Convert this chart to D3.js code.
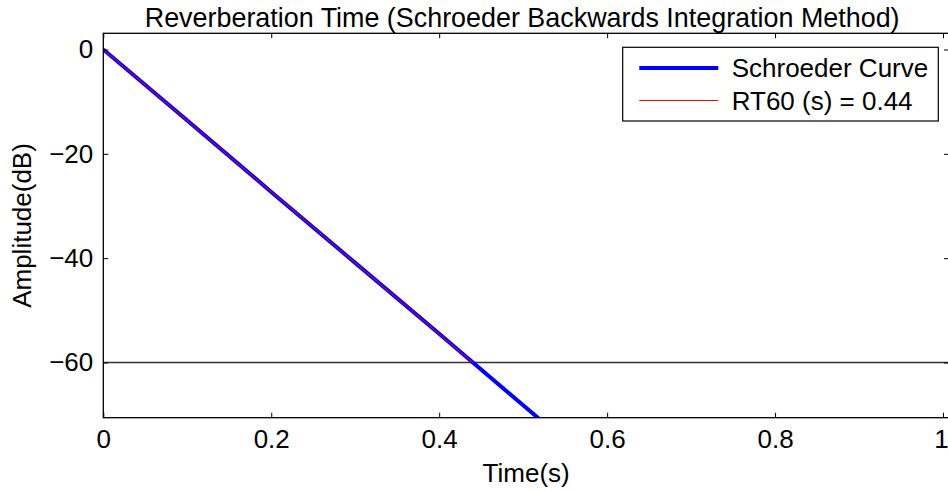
<!DOCTYPE html>
<html>
<head>
<meta charset="utf-8">
<script src="https://cdn.jsdelivr.net/npm/d3@7"></script>
<style>
  html, body { margin: 0; padding: 0; background: #fff; }
  svg { display: block; font-family: "Liberation Sans", Arial, Helvetica, sans-serif; }
</style>
</head>
<body>
<svg id="chart" width="948" height="490"></svg>
<script>
// Schroeder backwards-integrated energy decay curve (dB) over time (s)
const schroederTime = [0, 0.1, 0.2, 0.3, 0.4, 0.5, 0.6];
const schroederDb   = [0, -13.6, -27.3, -40.9, -54.5, -68.2, -81.8];

// Linear RT60 fit: from 0 dB down to -60 dB
const rt60Value = 0.44;
const rt60Time  = [0, rt60Value];
const rt60Db    = [0, -60];

// Reference level for the -60 dB decay
const refLevel = -60;

const xTicks = [0, 0.2, 0.4, 0.6, 0.8, 1];
const yTicks = [0, -20, -40, -60];

const titleText  = "Reverberation Time (Schroeder Backwards Integration Method)";
const xLabelText = "Time(s)";
const yLabelText = "Amplitude(dB)";
const legendLabels = ["Schroeder Curve", "RT60 (s) = " + rt60Value.toFixed(2)];

const svg = d3.select("#chart");
const plotLeft = 103.3, plotRight = 949, plotTop = 33.3, plotBottom = 417.7;

const x = d3.scaleLinear().domain([0, 1]).range([plotLeft, 943]);
const y = d3.scaleLinear().domain([0, -60]).range([49.5, 362.5]);

// clip for plotted data
svg.append("defs").append("clipPath").attr("id", "plotclip")
  .append("rect").attr("x", plotLeft).attr("y", plotTop)
  .attr("width", plotRight - plotLeft).attr("height", plotBottom - plotTop);

const plot = svg.append("g").attr("clip-path", "url(#plotclip)");

const line = d3.line().x(d => x(d[0])).y(d => y(d[1]));

// -60 dB reference line
plot.append("line")
  .attr("x1", plotLeft).attr("x2", plotRight)
  .attr("y1", y(refLevel)).attr("y2", y(refLevel))
  .attr("stroke", "#333").attr("stroke-width", 1.6);

plot.append("path")
  .datum(schroederTime.map((t, i) => [t, schroederDb[i]]))
  .attr("d", line)
  .attr("fill", "none").attr("stroke", "#0000ff").attr("stroke-width", 4);

plot.append("path")
  .datum(rt60Time.map((t, i) => [t, rt60Db[i]]))
  .attr("d", line)
  .attr("fill", "none").attr("stroke", "#ff0000").attr("stroke-width", 1);

// Axes box with inward ticks
const axisColor = "#000";
const tickLen = 5;
const fontSize = 26;
const fontFamily = "Liberation Sans, Arial, sans-serif";

svg.append("rect")
  .attr("x", plotLeft).attr("y", plotTop)
  .attr("width", plotRight - plotLeft).attr("height", plotBottom - plotTop)
  .attr("fill", "none").attr("stroke", axisColor).attr("stroke-width", 1.3);

const xAxisBottom = d3.axisBottom(x).tickValues(xTicks).tickSizeInner(-tickLen).tickSizeOuter(0)
  .tickPadding(12).tickFormat(d => d === 0 ? "0" : d === 1 ? "1" : d3.format(".1f")(d));
const gxb = svg.append("g").attr("transform", `translate(0,${plotBottom})`).call(xAxisBottom);
gxb.select(".domain").remove();
gxb.selectAll("line").attr("stroke", axisColor).attr("stroke-width", 1);
gxb.selectAll("text").attr("font-size", fontSize).attr("fill", "#000")
  .attr("font-family", fontFamily)
  .attr("dx", d => d === 1 ? -2 : 0);

const gxt = svg.append("g").attr("transform", `translate(0,${plotTop})`)
  .call(d3.axisTop(x).tickValues(xTicks).tickSizeInner(-tickLen).tickSizeOuter(0).tickFormat(""));
gxt.select(".domain").remove();
gxt.selectAll("line").attr("stroke", axisColor).attr("stroke-width", 1);

const yFmt = d => d < 0 ? "\u2212" + Math.abs(d) : String(d);
const gyl = svg.append("g").attr("transform", `translate(${plotLeft},0)`)
  .call(d3.axisLeft(y).tickValues(yTicks).tickSizeInner(-tickLen).tickSizeOuter(0)
    .tickPadding(10).tickFormat(yFmt));
gyl.select(".domain").remove();
gyl.selectAll("line").attr("stroke", axisColor).attr("stroke-width", 1);
gyl.selectAll("text").attr("font-size", fontSize).attr("fill", "#000")
  .attr("font-family", fontFamily);

const gyr = svg.append("g").attr("transform", `translate(${plotRight},0)`)
  .call(d3.axisRight(y).tickValues(yTicks).tickSizeInner(-tickLen).tickSizeOuter(0).tickFormat(""));
gyr.select(".domain").remove();
gyr.selectAll("line").attr("stroke", axisColor).attr("stroke-width", 1);

// Title and axis labels
const cx = (plotLeft + plotRight) / 2;
svg.append("text").attr("x", cx - 4).attr("y", 26.5).attr("text-anchor", "middle")
  .attr("font-size", 26.9).text(titleText);
svg.append("text").attr("x", cx).attr("y", 482).attr("text-anchor", "middle")
  .attr("font-size", fontSize).text(xLabelText);
svg.append("text")
  .attr("transform", `translate(31,${(plotTop + plotBottom) / 2}) rotate(-90)`)
  .attr("text-anchor", "middle").attr("font-size", fontSize).text(yLabelText);

// Legend
const lg = svg.append("g");
lg.append("rect").attr("x", 622.7).attr("y", 47.3).attr("width", 315.6).attr("height", 73.7)
  .attr("fill", "#fff").attr("stroke", "#000").attr("stroke-width", 1.2);
const legendItems = [
  { label: legendLabels[0], color: "#0000ff", width: 4, yy: 68 },
  { label: legendLabels[1], color: "#ff0000", width: 1, yy: 100.5 }
];
legendItems.forEach(it => {
  lg.append("line").attr("x1", 639.3).attr("x2", 718.3).attr("y1", it.yy).attr("y2", it.yy)
    .attr("stroke", it.color).attr("stroke-width", it.width);
  lg.append("text").attr("x", 731.7).attr("y", Math.round(it.yy) + 9).attr("font-size", fontSize)
    .text(it.label);
});
</script>
</body>
</html>
